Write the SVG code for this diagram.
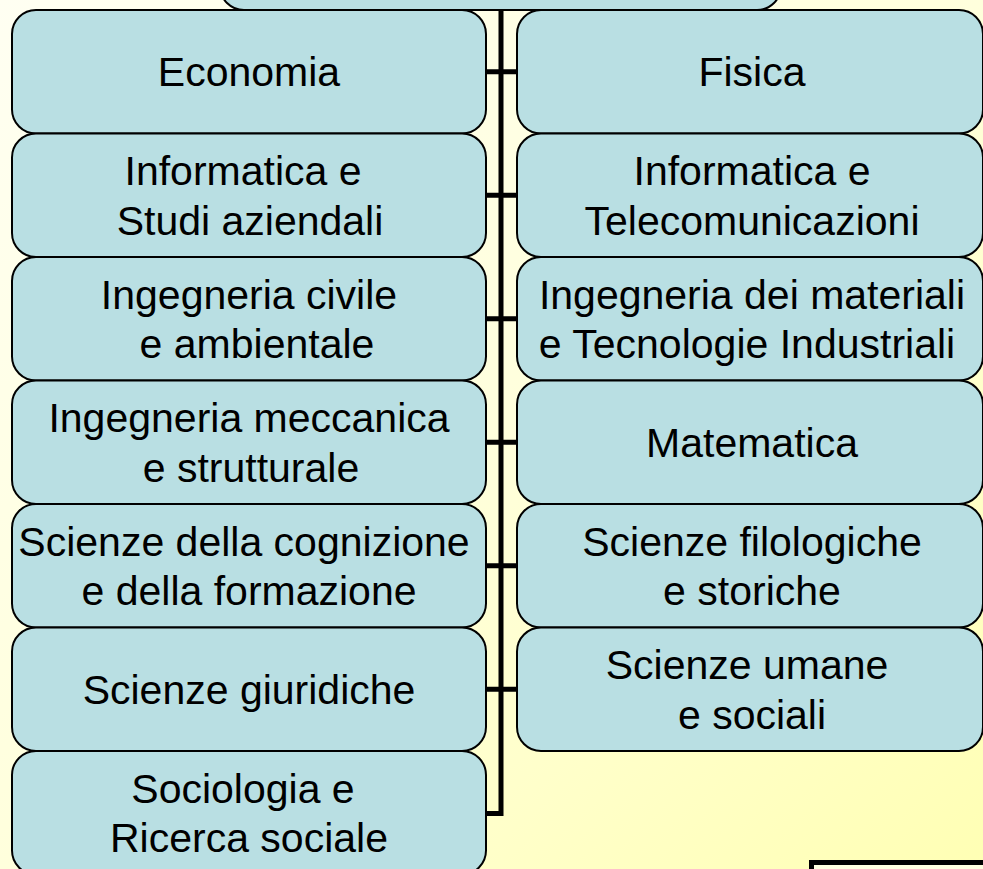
<svg xmlns="http://www.w3.org/2000/svg" width="983" height="869" viewBox="0 0 983 869">
<defs>
<linearGradient id="bg" x1="0" y1="0" x2="1" y2="1">
<stop offset="0" stop-color="#FFFFF2"/>
<stop offset="0.5" stop-color="#FFFFDC"/>
<stop offset="1" stop-color="#FFFFB4"/>
</linearGradient>
<style>
.box{fill:#B9DFE3;stroke:#000;stroke-width:2}
.t{font-family:"Liberation Sans",Arial,sans-serif;font-size:41px;fill:#000;text-anchor:middle}
.c{fill:none;stroke:#000;stroke-width:5}
</style>
</defs>
<rect width="983" height="869" fill="url(#bg)"/>
<g id="connectors">
<path class="c" d="M501,0 V813.5 H486"/>
<path class="c" d="M486,71.75 H517 M486,195.25 H517 M486,318.75 H517 M486,442.25 H517 M486,565.75 H517 M486,689.25 H517"/>
</g>
<g id="root"><rect class="box" x="220" y="-114" width="561" height="124" rx="24"/></g>
<g id="l1"><rect class="box" x="12" y="10" width="474" height="123.5" rx="24"/><text class="t" x="249" y="86">Economia</text></g>
<g id="l2"><rect class="box" x="12" y="133.5" width="474" height="123.5" rx="24"/><text class="t" x="243" y="185">Informatica e</text><text class="t" x="250" y="234.5">Studi aziendali</text></g>
<g id="l3"><rect class="box" x="12" y="257" width="474" height="123.5" rx="24"/><text class="t" x="249" y="308.5">Ingegneria civile</text><text class="t" x="257" y="358">e ambientale</text></g>
<g id="l4"><rect class="box" x="12" y="380.5" width="474" height="123.5" rx="24"/><text class="t" x="249" y="432">Ingegneria meccanica</text><text class="t" x="251" y="481.5">e strutturale</text></g>
<g id="l5"><rect class="box" x="12" y="504" width="474" height="123.5" rx="24"/><text class="t" x="244" y="555.5">Scienze della cognizione</text><text class="t" x="249" y="605">e della formazione</text></g>
<g id="l6"><rect class="box" x="12" y="627.5" width="474" height="123.5" rx="24"/><text class="t" x="249" y="703.5">Scienze giuridiche</text></g>
<g id="l7"><rect class="box" x="12" y="751" width="474" height="123.5" rx="24"/><text class="t" x="243" y="802.5">Sociologia e</text><text class="t" x="249" y="852">Ricerca sociale</text></g>
<g id="r1"><rect class="box" x="517" y="10" width="466" height="123.5" rx="24"/><text class="t" x="752" y="86">Fisica</text></g>
<g id="r2"><rect class="box" x="517" y="133.5" width="466" height="123.5" rx="24"/><text class="t" x="752" y="185">Informatica e</text><text class="t" x="752" y="234.5">Telecomunicazioni</text></g>
<g id="r3"><rect class="box" x="517" y="257" width="466" height="123.5" rx="24"/><text class="t" x="752" y="308.5">Ingegneria dei materiali</text><text class="t" x="747" y="358">e Tecnologie Industriali</text></g>
<g id="r4"><rect class="box" x="517" y="380.5" width="466" height="123.5" rx="24"/><text class="t" x="752" y="456.5">Matematica</text></g>
<g id="r5"><rect class="box" x="517" y="504" width="466" height="123.5" rx="24"/><text class="t" x="752" y="555.5">Scienze filologiche</text><text class="t" x="752" y="605">e storiche</text></g>
<g id="r6"><rect class="box" x="517" y="627.5" width="466" height="123.5" rx="24"/><text class="t" x="747" y="679">Scienze umane</text><text class="t" x="752" y="728.5">e sociali</text></g>
<rect x="811.5" y="862.5" width="200" height="50" fill="#FFFFE0" stroke="#000" stroke-width="5"/>
</svg>
